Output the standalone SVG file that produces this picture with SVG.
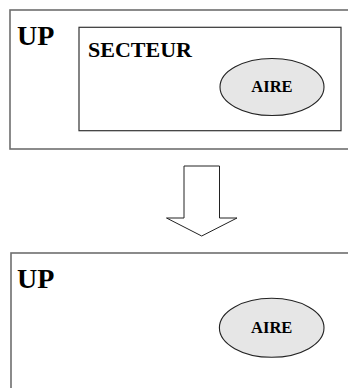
<svg xmlns="http://www.w3.org/2000/svg" width="348" height="388" viewBox="0 0 348 388">
<style>
.outer{fill:#fff;stroke:#6e6e6e;stroke-width:1.6}
.inner{fill:#fff;stroke:#333;stroke-width:1.2}
.ell{fill:#e6e6e6;stroke:#222;stroke-width:1.1}
.t{font-family:"Liberation Serif","Times New Roman",serif;font-weight:bold;fill:#000}
.arrow{fill:#fff;stroke:#222;stroke-width:1}
</style>
<rect width="348" height="388" fill="#fff"/>
<g id="up1">
<rect class="outer" x="10" y="10" width="350" height="139"/>
<text class="t" x="17" y="45" font-size="28">UP</text>
</g>
<g id="secteur">
<rect class="inner" x="79" y="27.3" width="262" height="103.4"/>
<text class="t" x="88" y="57" font-size="22">SECTEUR</text>
</g>
<g id="aire1">
<ellipse class="ell" cx="272" cy="87" rx="52" ry="28.5"/>
<text class="t" x="272" y="91.5" font-size="16.5" text-anchor="middle">AIRE</text>
</g>
<g id="connectors">
<polygon class="arrow" points="184,166 219.5,166 219.5,218 237,218 201.7,236 166.5,218 184,218"/>
</g>
<g id="up2">
<rect class="outer" x="11" y="253" width="350" height="150"/>
<text class="t" x="17" y="288" font-size="28">UP</text>
</g>
<g id="aire2">
<ellipse class="ell" cx="271.7" cy="327.8" rx="52.3" ry="29.5"/>
<text class="t" x="271.7" y="333" font-size="16.5" text-anchor="middle">AIRE</text>
</g>
</svg>
